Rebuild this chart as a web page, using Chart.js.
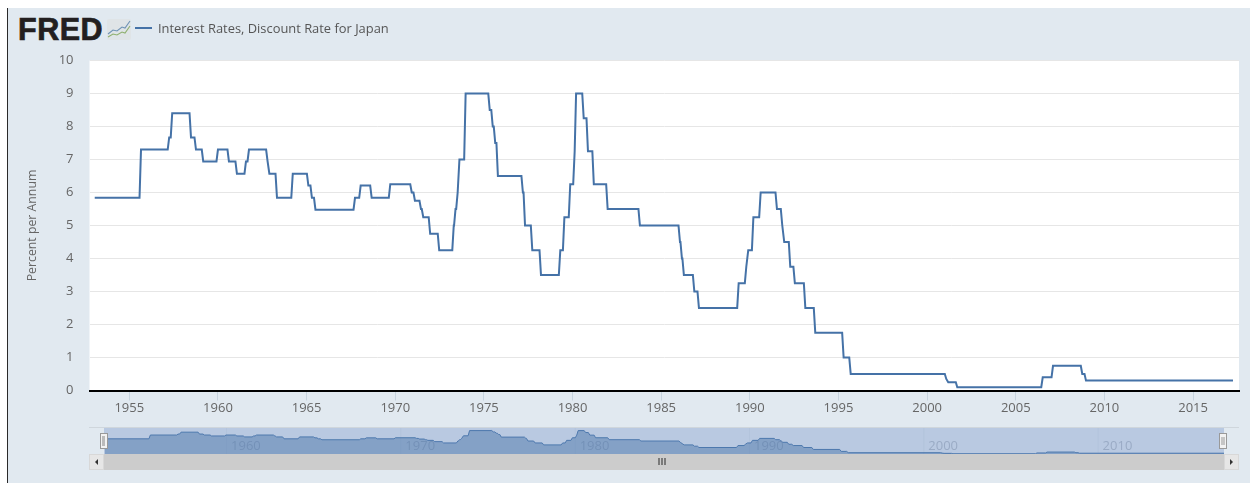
<!DOCTYPE html>
<html>
<head>
<meta charset="utf-8">
<script src="https://cdn.jsdelivr.net/npm/chart.js@4/dist/chart.umd.min.js"></script>
<style>
html,body{margin:0;padding:0;width:1250px;height:483px;overflow:hidden;background:#fff}
#page{position:absolute;left:0;top:0;width:1250px;height:483px;filter:blur(.35px)}
#panel{position:absolute;left:7px;top:8px;width:1243px;height:475px;background:#e1e9f0;border-left:1.5px solid #2a2a2a;box-sizing:border-box}
canvas{position:absolute}
#main{left:0;top:0}
#nav{left:104px;top:428px}
#logo{position:absolute;left:18px;top:12px;font:bold 30.5px/34px "Liberation Sans",sans-serif;color:#231f20;letter-spacing:.5px;-webkit-text-stroke:.7px #231f20}
#icon{position:absolute;left:107px;top:19px}
#lg{position:absolute;left:135px;top:27px;width:17px;height:2px;background:#4572a7}
#lgt{position:absolute;left:158px;top:19px;font:12.9px/18px "Open Sans",sans-serif;color:#555;white-space:nowrap}
.b{position:absolute;box-sizing:border-box}
</style>
</head>
<body>
<div id="page">
<div id="panel"></div>
<div id="logo">FRED</div>
<svg id="icon" width="24" height="22" viewBox="0 0 24 22">
<rect x="0" y="0" width="24" height="21" rx="2" fill="#dfe4e7"/>
<polyline points="1,15 6,11 10,12 15,8 18,9 23,2" fill="none" stroke="#6f93b5" stroke-width="1.1"/>
<polyline points="1,18 6,15 10,16 15,13 18,14 23,7" fill="none" stroke="#8fb06f" stroke-width="1.1"/>
</svg>
<div id="lg"></div>
<div id="lgt">Interest Rates, Discount Rate for Japan</div>
<canvas id="main" width="1250" height="483"></canvas>

<div class="b" style="left:89px;top:427px;width:1150px;height:1px;background:#cfd6dc"></div>
<div class="b" style="left:104px;top:428px;width:1120px;height:26px;background:#b9c9e1"></div>
<canvas id="nav" width="1120" height="26"></canvas>
<div class="b" style="left:89px;top:454px;width:1150px;height:16px;background:#cccccc"></div>
<div class="b" style="left:89px;top:454px;width:15px;height:16px;background:#e6e6e6;border:1px solid #d8d8d8"></div>
<div class="b" style="left:1224px;top:454px;width:15px;height:16px;background:#e6e6e6;border:1px solid #d8d8d8"></div>
<svg class="b" style="left:89px;top:454px" width="15" height="16"><polygon points="9,5 9,11 6,8" fill="#333"/></svg>
<svg class="b" style="left:1224px;top:454px" width="15" height="16"><polygon points="6,5 6,11 9,8" fill="#333"/></svg>
<svg class="b" style="left:658px;top:458px" width="9" height="8"><path d="M1 0V7M4 0V7M7 0V7" stroke="#444" stroke-width="1.2"/></svg>
<div class="b" style="left:100px;top:433px;width:8px;height:16px;background:#f2f2f2;border:1px solid #999"></div>
<div class="b" style="left:102px;top:436px;width:3px;height:10px;background:#bbb"></div>
<div class="b" style="left:1219px;top:433px;width:8px;height:16px;background:#f2f2f2;border:1px solid #999"></div>
<svg class="b" style="left:1219px;top:433px" width="8" height="16"><path d="M3 4V12M5 4V12" stroke="#999" stroke-width="1"/></svg>
</div>

<script>
// Interest Rates, Discount Rate for Japan: date of each change (decimal year) and the new rate (%)
const changeYears = [1953.05,1955.66,1957.25,1957.42,1958.48,1958.76,1959.17,1960.0,1960.62,1961.07,1961.58,1961.75,
  1962.8,1962.9,1963.33,1964.22,1965.1,1965.3,1965.5,1967.73,1968.05,1968.67,1969.72,1970.93,1971.11,1971.45,1971.58,
  1971.97,1972.48,1973.3,1973.4,1973.52,1973.62,1973.97,1975.33,1975.5,1975.64,1975.79,1977.2,1977.32,1977.73,1978.22,
  1979.31,1979.54,1979.87,1980.12,1980.2,1980.63,1980.87,1981.2,1981.98,1983.8,1986.06,1986.17,1986.28,1986.87,1987.13,
  1989.37,1989.8,1989.91,1990.2,1990.61,1991.53,1991.83,1991.94,1992.28,1992.54,1993.13,1993.69,1995.29,1995.69,
  2001.08,2001.19,2001.7,2006.52,2007.1,2008.75,2008.96];
const changeRates = [5.84,7.3,7.67,8.4,7.67,7.3,6.94,7.3,6.94,6.57,6.94,7.3,
  6.94,6.57,5.84,6.57,6.21,5.84,5.48,5.84,6.21,5.84,6.25,6,5.75,5.5,5.25,
  4.75,4.25,5,5.5,6,7,9,8.5,8,7.5,6.5,6,5,4.25,3.5,
  4.25,5.25,6.25,7.25,9,8.25,7.25,6.25,5.5,5,4.5,4,3.5,3,2.5,
  3.25,3.75,4.25,5.25,6,5.5,5,4.5,3.75,3.25,2.5,1.75,1,0.5,
  0.35,0.25,0.1,0.4,0.75,0.5,0.3];
const lastYear = 2017.25;
const monthStep = 1/12;
const yTicks = [0,1,2,3,4,5,6,7,8,9,10];
const seriesName = 'Interest Rates, Discount Rate for Japan';
const yTitle = 'Percent per Annum';

// Monthly series: each rate holds until the month before the next change
const points = [];
changeYears.forEach((t,i)=>{
  points.push({x:t,y:changeRates[i]});
  const end = i+1<changeYears.length ? changeYears[i+1]-monthStep : lastYear;
  if(end>t) points.push({x:end,y:changeRates[i]});
});

Chart.defaults.font.family = '"Open Sans",sans-serif';
Chart.defaults.animation = false;

const whitePlot = {id:'whitePlot',beforeDraw(c){const a=c.chartArea;c.ctx.save();c.ctx.fillStyle='#fff';c.ctx.fillRect(a.left,a.top,a.right-a.left,a.bottom-a.top);c.ctx.restore();}};

new Chart(document.getElementById('main'),{
  type:'line',
  data:{datasets:[{label:seriesName,data:points,borderColor:'#4572a7',borderWidth:2,pointRadius:0,tension:0,fill:false,borderJoinStyle:'miter',clip:false}]},
  plugins:[whitePlot],
  options:{
    responsive:false,
    layout:{padding:{left:25,top:60.5,right:11,bottom:39.5}},
    plugins:{legend:{display:false},tooltip:{enabled:false}},
    scales:{
      x:{type:'linear',min:1952.755,max:2017.59,
        afterFit:s=>{s.height=53;},
        ticks:{stepSize:5,includeBounds:false,maxRotation:0,autoSkip:false,color:'#666',font:{size:13},padding:0,callback:v=>String(v)},
        grid:{drawOnChartArea:false,drawTicks:true,tickLength:10,tickColor:'#c6d3de',tickWidth:1},
        border:{display:true,color:'#000',width:2}},
      y:{min:0,max:10,
        afterFit:s=>{s.width=64.5;},
        afterBuildTicks:s=>{s.ticks=yTicks.map(v=>({value:v}));},
        title:{display:true,text:yTitle,color:'#666',font:{size:12.3},padding:{top:0,bottom:0}},
        ticks:{color:'#666',font:{size:13},padding:16,callback:v=>String(v)},
        grid:{color:'#e6e6e6',lineWidth:1,drawTicks:false},
        border:{display:false}}
    }
  }
});

const navLabels = [1960,1970,1980,1990,2000,2010];
const navBehind = {id:'navBehind',beforeDatasetsDraw(c){
  const ctx=c.ctx,s=c.scales.x;
  ctx.save();ctx.font='13px "Open Sans",sans-serif';ctx.textBaseline='middle';
  navLabels.forEach(v=>{const p=s.getPixelForValue(v);
    ctx.fillStyle='rgba(120,140,170,.08)';ctx.fillRect(p,0,1,c.height);
    ctx.fillStyle='#9aabc5';ctx.fillText(String(v),p+5,18);});
  ctx.restore();}};

new Chart(document.getElementById('nav'),{
  type:'line',
  data:{datasets:[{data:points,borderColor:'#4d78ad',borderWidth:1,pointRadius:0,tension:0,fill:'origin',backgroundColor:'rgba(69,114,167,.45)'}]},
  plugins:[navBehind],
  options:{
    responsive:false,
    layout:{padding:0},
    plugins:{legend:{display:false},tooltip:{enabled:false}},
    scales:{
      x:{type:'linear',display:false,min:1953,max:lastYear},
      y:{display:false,min:0,max:10}
    }
  }
});
</script>
</body>
</html>
